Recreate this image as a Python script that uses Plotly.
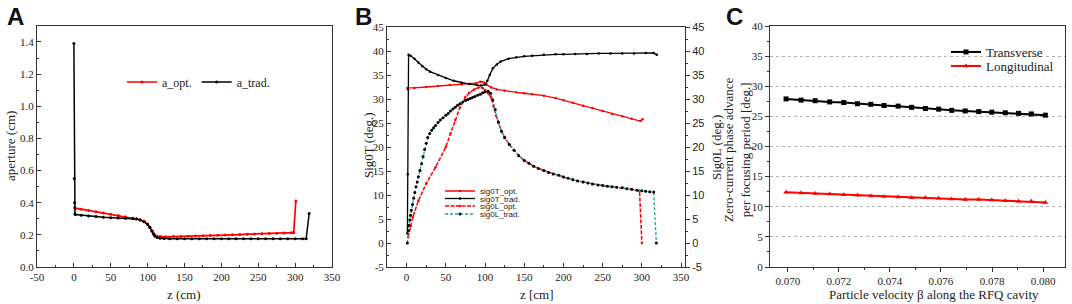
import plotly.graph_objects as go

# ---------------- Panel A data ----------------
a_opt_z = [1, 2, 10, 20, 30, 40, 50, 60, 70, 80, 85, 90, 95, 100, 103, 106, 108, 110, 113, 117,
           125, 135, 145, 155, 165, 175, 185, 195, 205, 215, 225, 235, 245, 255, 265, 275, 285, 295, 298, 301]
a_opt = [0.370, 0.365, 0.360, 0.352, 0.344, 0.336, 0.328, 0.320, 0.312, 0.304, 0.300, 0.294, 0.284, 0.267,
         0.248, 0.225, 0.208, 0.197, 0.191, 0.189, 0.188, 0.189, 0.190, 0.192, 0.193, 0.195, 0.196, 0.198,
         0.199, 0.201, 0.202, 0.204, 0.205, 0.207, 0.208, 0.210, 0.211, 0.213, 0.214, 0.410]

a_trad_z = [0, 0.5, 1, 1.5, 2, 10, 20, 30, 40, 50, 60, 70, 80, 85, 90, 95, 100, 103, 106, 108, 110, 113,
            117, 122, 130, 140, 150, 160, 170, 180, 190, 200, 210, 220, 230, 240, 250, 260, 270, 280, 290,
            300, 310, 315, 319]
a_trad = [1.390, 0.550, 0.400, 0.330, 0.327, 0.322, 0.318, 0.314, 0.310, 0.307, 0.305, 0.303, 0.301,
          0.298, 0.292, 0.282, 0.265, 0.247, 0.222, 0.205, 0.192, 0.183, 0.179, 0.177, 0.176, 0.175,
          0.175, 0.175, 0.175, 0.175, 0.175, 0.175, 0.175, 0.175, 0.175, 0.175, 0.175, 0.175, 0.175,
          0.175, 0.175, 0.175, 0.175, 0.175, 0.333]
a_xticks = [-50, 0, 50, 100, 150, 200, 250, 300, 350]
a_xticktext = ["-50", "0", "50", "100", "150", "200", "250", "300", "350"]

# ---------------- Panel B data ----------------
sT_opt_z = [1, 10, 25, 40, 55, 70, 80, 88, 94, 98, 102, 108, 115, 125, 140, 150, 160, 175, 190, 200,
            212, 225, 237, 250, 262, 275, 287, 298, 301]
sT_opt = [32.3, 32.3, 32.5, 32.7, 32.9, 33.0, 33.1, 33.3, 33.6, 33.5, 33.0, 32.4, 32.0, 31.7, 31.4,
          31.2, 31.0, 30.7, 30.2, 29.8, 29.2, 28.6, 28.1, 27.5, 26.9, 26.4, 25.9, 25.4, 25.8]

sT_trad_z = [1, 1.5, 2, 2.5, 5, 10, 15, 20, 25, 30, 40, 50, 60, 70, 80, 90, 95, 100, 103, 106, 110,
             115, 120, 130, 140, 150, 160, 175, 190, 200, 215, 230, 245, 260, 275, 290, 305, 315, 319]
sT_trad = [2.0, 14.3, 32.0, 39.2, 39.0, 38.4, 37.6, 36.8, 36.2, 35.7, 35.0, 34.4, 33.8, 33.4, 33.1,
           32.9, 32.8, 33.0, 33.8, 35.0, 36.4, 37.2, 37.8, 38.4, 38.7, 38.9, 39.0, 39.2, 39.3, 39.3,
           39.4, 39.4, 39.5, 39.5, 39.5, 39.5, 39.6, 39.6, 39.2]

sL_opt_z = [2, 5, 8, 15, 25, 37, 50, 56, 62, 68, 75, 80, 86, 92, 97, 100, 104, 108, 111, 114, 117,
            121, 125, 131, 137, 143, 150, 162, 175, 187, 200, 212, 225, 237, 250, 262, 275, 287, 297, 300]
sL_opt = [1.2, 3.5, 5.4, 8.8, 12.4, 15.8, 20.0, 22.8, 25.6, 28.2, 30.4, 31.3, 32.0, 32.4, 32.3, 31.9,
          31.2, 30.2, 28.5, 26.5, 25.0, 23.3, 22.0, 20.5, 19.3, 18.2, 17.2, 16.0, 15.1, 14.4, 13.75,
          13.2, 12.7, 12.3, 12.0, 11.7, 11.5, 11.2, 10.9, 0.0]

sL_trad_z = [1, 2, 3, 4, 5, 6, 7.5, 9, 10.5, 12, 13.5, 15, 17, 19, 21, 23, 25, 27, 29.5, 32, 34.5, 37,
             40, 43, 46.5, 50, 53, 56, 59, 62, 65, 68, 71.5, 75, 78, 81, 84, 87, 90.5, 94, 97, 100,
             104, 107, 110, 113, 117, 121, 125, 131, 137, 143, 150, 156, 162, 168, 175, 181, 187, 194,
             200, 206, 212, 218, 225, 231, 237, 244, 250, 256, 262, 268, 275, 281, 287, 294, 300, 305,
             310, 315, 318.5]
sL_trad = [0.0, 2.6, 3.7, 4.8, 5.8, 6.8, 8.0, 9.3, 10.5, 11.7, 12.7, 13.8, 15.1, 16.5, 18.0, 19.5, 20.8,
           22.0, 22.8, 23.5, 24.0, 24.5, 25.1, 25.6, 26.1, 26.6, 27.0, 27.5, 27.9, 28.3, 28.7, 29.0,
           29.4, 29.7, 29.9, 30.1, 30.3, 30.5, 30.8, 31.0, 31.3, 31.5, 31.6, 31.2, 29.8, 27.8, 25.2,
           23.3, 22.0, 20.5, 19.3, 18.2, 17.2, 16.6, 16.0, 15.5, 15.1, 14.7, 14.4, 14.1, 13.75, 13.5,
           13.2, 12.9, 12.7, 12.5, 12.3, 12.1, 12.0, 11.8, 11.7, 11.6, 11.5, 11.3, 11.2, 11.0, 10.9,
           10.8, 10.7, 10.6, 0.0]
b_yticks = [-5, 0, 5, 10, 15, 20, 25, 30, 35, 40, 45]
b_yticktext = ["-5", "0", "5", "10", "15", "20", "25", "30", "35", "40", "45"]

# ---------------- Panel C data ----------------
beta = [0.06993, 0.07052, 0.07107, 0.07164, 0.07219, 0.07273, 0.07325, 0.07377, 0.07432, 0.07485,
        0.07539, 0.07591, 0.07642, 0.07695, 0.07748, 0.07799, 0.07852, 0.07904, 0.07954, 0.08009]
transverse = [27.9, 27.7, 27.6, 27.4, 27.3, 27.1, 27.0, 26.8, 26.7, 26.5, 26.3, 26.2, 26.0, 25.9,
              25.8, 25.7, 25.6, 25.5, 25.4, 25.2]
longitudinal = [12.4, 12.3, 12.2, 12.1, 12.0, 11.9, 11.8, 11.7, 11.6, 11.5, 11.5, 11.4, 11.3, 11.2,
                11.2, 11.1, 11.0, 10.9, 10.9, 10.7]

SERIF = "Liberation Serif"
SANS = "Liberation Sans"
RED = "#ff0000"
TEAL = "#1aa3a3"
TXT = "#222222"
W, H = 1072, 304

fig = go.Figure()

# Panel A
fig.add_trace(go.Scatter(x=a_opt_z, y=a_opt, name="a_opt.", mode="lines+markers",
                         line=dict(color=RED, width=1.7), marker=dict(size=3, color=RED),
                         xaxis="x", yaxis="y", legend="legend"))
fig.add_trace(go.Scatter(x=a_trad_z, y=a_trad, name="a_trad.", mode="lines+markers",
                         line=dict(color="black", width=1.5), marker=dict(size=3, color="black"),
                         xaxis="x", yaxis="y", legend="legend"))

# Panel B
fig.add_trace(go.Scatter(x=sT_opt_z, y=sT_opt, name="sig0T_opt.", mode="lines+markers",
                         line=dict(color=RED, width=1.3), marker=dict(size=2.5, color=RED),
                         xaxis="x2", yaxis="y2", legend="legend2"))
fig.add_trace(go.Scatter(x=sT_trad_z, y=sT_trad, name="sig0T_trad.", mode="lines+markers",
                         line=dict(color="black", width=1.3), marker=dict(size=2.5, color="black"),
                         xaxis="x2", yaxis="y2", legend="legend3"))
fig.add_trace(go.Scatter(x=sL_opt_z, y=sL_opt, name="sig0L_opt.", mode="lines+markers",
                         line=dict(color=RED, width=1.5, dash="4px,1.5px"), marker=dict(size=2.5, color=RED),
                         xaxis="x2", yaxis="y3", legend="legend4"))
fig.add_trace(go.Scatter(x=sL_trad_z, y=sL_trad, name="sig0L_trad.", mode="lines+markers",
                         line=dict(color=TEAL, width=1.3, dash="3px,2px"), marker=dict(size=3, color="black"),
                         xaxis="x2", yaxis="y3", legend="legend5"))

# Panel C
fig.add_trace(go.Scatter(x=beta, y=transverse, name="Transverse", mode="lines+markers",
                         line=dict(color="black", width=2), marker=dict(size=5, symbol="square", color="black"),
                         xaxis="x3", yaxis="y4", legend="legend6"))
fig.add_trace(go.Scatter(x=beta, y=longitudinal, name="Longitudinal", mode="lines+markers",
                         line=dict(color=RED, width=2), marker=dict(size=5, symbol="triangle-up", color=RED),
                         xaxis="x3", yaxis="y4", legend="legend7"))

TC = "#333333"


def ax(**kw):
    base = dict(showline=True, linecolor=TC, linewidth=1, mirror=True, ticks="inside",
                ticklen=4, tickcolor=TC, showgrid=False, zeroline=False, automargin=False)
    base.update(kw)
    return base


px = lambda v: v / W
py = lambda v: 1 - v / H

fig.update_layout(
    width=W, height=H, margin=dict(l=0, r=0, t=0, b=0),
    paper_bgcolor="white", plot_bgcolor="white", showlegend=True,
    font=dict(family=SERIF, size=11, color=TXT),
    xaxis=ax(domain=[px(37), px(332)], range=[-50, 350], tickvals=a_xticks, ticktext=a_xticktext,
             anchor="y", minor=dict(ticks="inside", ticklen=2, dtick=25, tickcolor=TC)),
    yaxis=ax(domain=[py(267), py(25.9)], range=[0, 1.5], tickvals=[0, 0.2, 0.4, 0.6, 0.8, 1.0, 1.2, 1.4],
             tickformat=".1f", anchor="x",
             minor=dict(ticks="inside", ticklen=2, dtick=0.1, tickcolor=TC)),
    xaxis2=ax(domain=[px(387), px(685)], range=[-25, 355], dtick=50, anchor="y2",
              minor=dict(ticks="inside", ticklen=2, dtick=25, tickcolor=TC)),
    yaxis2=ax(domain=[py(267), py(27)], range=[-5, 45], tickvals=b_yticks, ticktext=b_yticktext,
              anchor="x2", mirror=False,
              minor=dict(ticks="inside", ticklen=2, dtick=2.5, tickcolor=TC)),
    yaxis3=ax(range=[-5, 45], tickvals=b_yticks, ticktext=b_yticktext, anchor="x2", overlaying="y2",
              side="right", mirror=False, ticks="outside",
              minor=dict(ticks="outside", ticklen=2, dtick=2.5, tickcolor=TC)),
    xaxis3=ax(domain=[px(770), px(1065)], range=[0.0693, 0.08086], dtick=0.002, tick0=0.070,
              tickformat=".3f", anchor="y4", ticks="outside",
              minor=dict(ticks="outside", ticklen=2, dtick=0.001, tickcolor=TC)),
    yaxis4=ax(domain=[py(267), py(26)], range=[0, 40], dtick=5, anchor="x3", ticks="outside",
              showgrid=True, gridcolor="#b5b5b5", griddash="dot", gridwidth=1,
              minor=dict(ticks="outside", ticklen=2, dtick=2.5, tickcolor=TC)),
    legend=dict(orientation="h", x=px(122), y=py(82), xanchor="left", yanchor="middle",
                bgcolor="rgba(0,0,0,0)", font=dict(family=SERIF, size=12, color=TXT),
                itemwidth=30, tracegroupgap=0),
)

fig.update_xaxes(tickfont=dict(family=SERIF, size=11, color=TXT))
fig.update_yaxes(tickfont=dict(family=SERIF, size=11, color=TXT))
fig.update_layout(yaxis3_tickfont=dict(family=SANS, size=11, color=TXT))

b_leg_y = [191, 198.5, 206, 214]
for i, yy in enumerate(b_leg_y):
    fig.update_layout(**{f"legend{i + 2}": dict(x=px(440), y=py(yy), xanchor="left", yanchor="middle",
                                                 bgcolor="rgba(0,0,0,0)", itemwidth=30,
                                                 font=dict(family=SANS, size=8, color=TXT))})
for i, yy in enumerate([52, 66]):
    fig.update_layout(**{f"legend{i + 6}": dict(x=px(946), y=py(yy), xanchor="left", yanchor="middle",
                                                 bgcolor="rgba(0,0,0,0)", itemwidth=30,
                                                 font=dict(family=SERIF, size=13, color=TXT))})

# panel letters
for letter, xx in [("A", 5), ("B", 353), ("C", 724)]:
    fig.add_annotation(text=f"<b>{letter}</b>", x=px(xx), y=py(1), xref="paper", yref="paper",
                       xanchor="left", yanchor="top", showarrow=False,
                       font=dict(family=SANS, size=24, color="#111111"))

# axis titles (placed as text)
titles = [
    ("z (cm)", 184, 294, 0),
    ("aperture (cm)", 10, 146, -90),
    ("z [cm]", 537, 294, 0),
    ("Sig0T (deg.)", 368, 146, -90),
    ("Sig0L (deg.)", 716, 148, -90),
    ("Zero-current phase advance<br>per focusing period [deg.]", 737, 150, -90),
    ("Particle velocity β along the RFQ cavity", 934, 294, 0),
]
for txt, xx, yy, ang in titles:
    fig.add_annotation(text=txt, x=px(xx), y=py(yy), xref="paper", yref="paper",
                       xanchor="center", yanchor="middle", showarrow=False, textangle=ang,
                       font=dict(family=SERIF, size=13, color=TXT))

fig.write_html("out.html", config={"displayModeBar": False},
               post_script="document.body.style.margin='0px';")
